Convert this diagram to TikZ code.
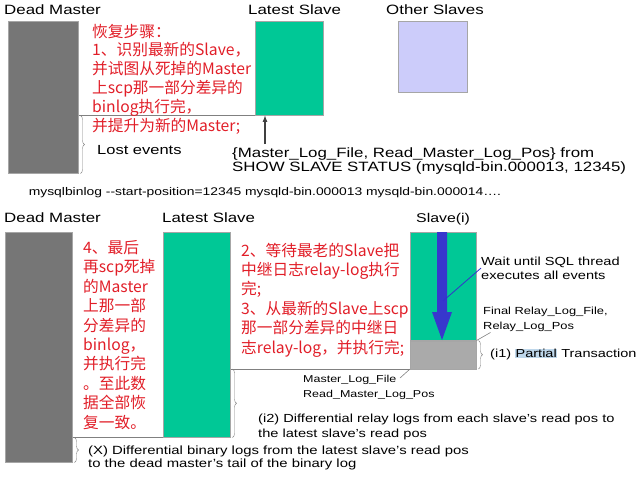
\documentclass[tikz,border=0pt]{standalone}
\usepackage{fontspec}
\setmainfont{Liberation Sans}[FakeStretch=1.25]
\newfontfamily\cjk{Noto Sans CJK SC}
\usetikzlibrary{decorations.pathreplacing}
\definecolor{deadgray}{RGB}{118,118,118}
\definecolor{slavegreen}{RGB}{0,200,150}
\definecolor{otherblue}{RGB}{204,204,250}
\definecolor{partgray}{RGB}{170,170,170}
\definecolor{stepred}{RGB}{225,30,40}
\definecolor{sqlblue}{RGB}{55,55,205}
\definecolor{hlblue}{RGB}{190,215,235}
\tikzset{>=latex}

\begin{document}
\begin{tikzpicture}[x=1pt,y=-1pt,
  box/.style={draw=gray!70,line width=0.5pt,inner sep=0pt,anchor=north west},
  lbl/.style={anchor=base west,inner sep=0pt,font=\fontsize{13.5}{16}\selectfont},
  note/.style={anchor=base west,align=left,inner sep=0pt,font=\fontsize{#1}{14.5}\selectfont},
  note/.default=11.7,
  steps/.style={anchor=base west,align=left,inner sep=0pt,text=stepred,font=\cjk\fontsize{15.7}{#1}\selectfont},
  steps/.default=19.4,
  guide/.style={gray,line width=0.6pt},
  brc/.style={gray,decorate,decoration={brace,amplitude=4pt}}]
  \useasboundingbox (0,0) rectangle (640,477);

  % first stage
  \node[box,fill=deadgray,minimum width=70,minimum height=152] (dm1) at (8,21) {};
  \node[box,fill=slavegreen,minimum width=68,minimum height=94] (ls1) at (255,21) {};
  \node[box,fill=otherblue,minimum width=69,minimum height=71] (os1) at (398,21) {};
  \node[lbl] (dmlbl1) at (4,14) {Dead Master};
  \node[lbl] (lslbl1) at (248,14) {Latest Slave};
  \node[lbl] (oslbl1) at (386,14) {Other Slaves};
  \draw[guide] (dm1.east |- ls1.south) -- (ls1.south west);
  \draw[brc] ([xshift=2]dm1.east |- ls1.south) -- ([xshift=2]dm1.south east);
  \node[note=13.2] (lost) at (97,154) {Lost events};
  \node[steps=18.8] (step1) at (92,131) {恢复步骤：\\1、识别最新的Slave，\\并试图从死掉的Master\\上scp那一部分差异的\\binlog执行完，\\并提升为新的Master;};
  \node[note=13.5] (readpos) at (232,171.5) {\{Master\_Log\_File, Read\_Master\_Log\_Pos\} from\\SHOW SLAVE STATUS (mysqld-bin.000013, 12345)};
  \coordinate (rp) at (265,144);
  \draw[->,darkgray,line width=1.2pt] (rp) -- (rp |- ls1.south);
  \node[note=11.1,anchor=base] (cmd) at (265,195) {mysqlbinlog -{}-start-position=12345 mysqld-bin.000013 mysqld-bin.000014….};

  % second stage
  \node[box,fill=deadgray,minimum width=67,minimum height=230] (dm2) at (5,232) {};
  \node[box,fill=slavegreen,minimum width=67,minimum height=205] (ls2) at (163,232) {};
  \node[box,fill=slavegreen,minimum width=66,minimum height=108] (si) at (410,232) {};
  \node[box,fill=partgray,minimum width=66,minimum height=28] (part) at (si.south west) {};
  \node[lbl] (dmlbl2) at (4,222) {Dead Master};
  \node[lbl] (lslbl2) at (162,222) {Latest Slave};
  \node[lbl,font=\fontsize{12.7}{15}\selectfont] (silbl) at (416,222) {Slave(i)};
  \draw[guide] (dm2.east |- ls2.south) -- (ls2.south west);
  \draw[guide] (ls2.east |- part.south) -- (part.south west);
  \fill[sqlblue] (437,232) -- (447,232) -- (447,312) -- (452,312) -- (442,340)
    -- (432,312) -- (437,312) -- cycle;
  \coordinate (sqlhead) at (443,301);
  \node[note] (wait) at (481,279.5) {Wait until SQL thread\\executes all events};
  \draw[blue!60!gray,line width=0.8pt] (wait.west) -- (sqlhead);
  \node[note=10.3] (final) at (483,329) {Final Relay\_Log\_File,\\Relay\_Log\_Pos};
  \draw[guide] (part.north east) -- ++(14,-8);
  \draw[brc] ([xshift=2]part.north east) -- ([xshift=2]part.south east);
  \node[note=11.6] (i1) at (490,357.5) {(i1) {\setlength\fboxsep{0.5pt}\colorbox{hlblue}{Partial}} Transaction};
  \node[note=10] (mlog) at (303,397) {Master\_Log\_File\\Read\_Master\_Log\_Pos};
  \draw[guide] (part.south west) -- ++(-10,9);
  \draw[brc] ([xshift=2]ls2.east |- part.south) -- ([xshift=2]ls2.south east);
  \node[note] (i2) at (258,437) {(i2) Differential relay logs from each slave's read pos to\\the latest slave's read pos};
  \draw[brc] ([xshift=2]dm2.east |- ls2.south) -- ([xshift=2]dm2.south east);
  \node[note=11.9,font=\fontsize{11.9}{12.8}\selectfont] (x) at (88,467.5) {(X) Differential binary logs from the latest slave's read pos\\to the dead master's tail of the binary log};
  \node[steps] (step4) at (83,428) {4、最后\\再scp死掉\\的Master\\上那一部\\分差异的\\binlog，\\并执行完\\。至此数\\据全部恢\\复一致。};
  \node[steps] (step23) at (241,353) {2、等待最老的Slave把\\中继日志relay-log执行\\完;\\3、从最新的Slave上scp\\那一部分差异的中继日\\志relay-log，并执行完;};
\end{tikzpicture}
\end{document}
